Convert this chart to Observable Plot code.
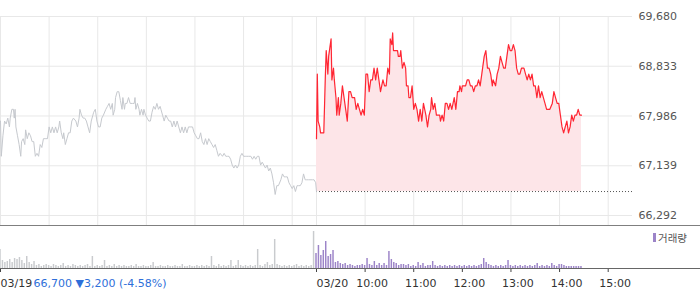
<!DOCTYPE html>
<html><head><meta charset="utf-8">
<script src="https://cdn.jsdelivr.net/npm/d3@7"></script>
<script src="https://cdn.jsdelivr.net/npm/@observablehq/plot@0.6"></script>
<style>
html,body{margin:0;padding:0;background:#fff;}
#wrap{position:relative;width:700px;height:289px;overflow:hidden;font-family:"DejaVu Sans",sans-serif;}
#main{position:absolute;left:0;top:0;}
#vol{position:absolute;left:0;top:226px;}
.hline{position:absolute;left:0;width:700px;height:0;}
#legend{position:absolute;left:653px;top:230px;font:10.5px "Noto Sans CJK KR",sans-serif;color:#555;display:flex;align-items:center;}
#legend i{display:inline-block;width:3px;height:9px;background:#9c84c8;margin-right:2px;}
</style></head>
<body><div id="wrap">
<div id="main"></div>
<div id="vol"></div>
<div class="hline" style="top:224.5px;border-top:1.5px solid #7f7f7f"></div>
<div class="hline" style="top:267.5px;border-top:1px solid #666"></div>
<div id="legend"><i></i><span>거래량</span></div>
</div>
<script>
// ---- data ----
const dayLabels = ["03/19", "03/20"];
const hourLabels = ["09:00","10:00","11:00","12:00","13:00","14:00","15:00"];
const sessionMinutes = 390; // 09:00 - 15:30
const yTicks = [66292, 67139, 67986, 68833, 69680];
const prevClose = 66700;
const lastPrice = 66700, change = -3200, changePct = -4.58;

const prevMinutes = [0,1,3,5,7,9,11,12,14,16,
 17,18,19,21,23,25,26,28,30,31,
 33,35,37,39,41,43,45,47,49,51,
 53,56,58,60,62,64,66,68,70,72,
 73,75,77,78,80,82,84,86,88,90,
 93,95,97,98,100,102,104,106,108,110,
 112,114,115,117,119,121,123,125,127,130,
 132,134,136,138,139,141,142,144,146,148,
 150,151,153,154,156,158,160,161,163,165,
 166,167,169,171,172,174,176,177,179,181,
 183,185,187,189,191,193,195,197,198,200,
 202,204,206,208,210,212,214,216,218,220,
 222,224,226,228,230,232,234,237,239,241,
 243,245,247,249,251,253,255,257,259,261,
 263,265,267,269,271,274,276,278,280,282,
 284,286,288,290,292,294,296,298,300,302,
 304,306,309,311,313,315,317,319,321,323,
 325,327,329,331,333,335,337,339,341,343,
 346,348,350,352,354,356,358,360,362,364,
 366,368,370,372,374,376,378,380,382,385,
 387,389,390];
const prevPrices = [67900,67300,67650,67900,67850,67950,67800,67950,68100,68100,
 67950,68100,67800,67650,67500,67300,67550,67600,67500,67750,
 67600,67700,67650,67550,67550,67300,67350,67300,67500,67450,
 67600,67600,67600,67800,67700,67800,67700,67800,67700,67800,
 67900,67700,67600,67700,67500,67600,67700,67700,67900,67950,
 67900,67800,67950,68100,68000,67950,67950,67900,67800,67700,
 67900,68000,68050,68100,67900,67800,67800,67950,68000,68100,
 68150,68200,68100,68200,68000,68100,68300,68400,68400,68250,
 68100,68300,68100,68200,68200,68300,68200,68200,68200,68200,
 68300,68100,68200,68100,68000,68100,68000,68100,68000,67950,
 67900,67900,68050,68150,68100,68200,68100,68150,68100,68000,
 67900,68000,67950,67900,67900,67800,67900,67800,67900,67800,
 67700,67800,67700,67800,67700,67800,67800,67800,67700,67650,
 67600,67600,67700,67550,67500,67600,67500,67600,67550,67500,
 67450,67500,67400,67300,67350,67300,67350,67300,67300,67300,
 67250,67150,67100,67150,67100,67150,67300,67350,67300,67300,
 67300,67300,67300,67250,67300,67250,67300,67300,67150,67200,
 67150,67100,67150,67050,67100,67000,66850,66650,66800,66800,
 66900,67000,66950,66950,66950,66850,66800,66750,66800,66700,
 66800,66800,66800,66850,67000,66900,66900,66900,66900,66900,
 66900,66850,66700];

const todayMinutes = [0,1,2,4,5,9,11,12,14,15,
 18,19,21,22,24,25,27,28,30,32,
 34,36,38,40,42,44,47,49,51,53,
 55,57,59,61,63,65,67,69,71,73,
 75,77,79,82,84,86,88,90,91,93,
 94,95,98,100,101,103,104,106,108,110,
 111,113,114,116,118,120,122,124,126,128,
 130,132,135,137,139,141,142,144,146,148,
 150,152,153,155,157,159,161,163,165,167,
 170,172,174,176,177,179,180,182,184,186,
 188,190,192,194,196,198,200,202,205,207,
 209,211,213,215,217,218,221,223,225,227,
 229,231,233,235,237,239,241,243,245,247,
 249,251,253,256,258,260,262,264,266,268,
 270,272,274,276,278,280,282,284,286,288,
 291,293,295,297,299,301,303,305,307,309,
 311,313,315,317,319,321,323,325,327];
const todayPrices = [67600,68700,67900,67800,67700,67700,68700,69100,68700,69000,
 69300,68600,68800,68600,68300,68000,68300,68000,68200,68500,
 68300,68100,67900,68400,68400,68300,68300,68100,68200,68100,
 68000,68100,68000,68700,68700,68400,68600,68600,68800,68600,
 68800,68600,68400,68600,68500,68500,68800,68700,69300,69200,
 69400,69100,69100,69100,69000,69000,69100,68800,68900,68800,
 68500,68500,68300,68300,68500,68100,68200,68100,67900,68100,
 67900,68200,68000,67800,68000,68100,68300,68100,68200,68000,
 68000,68000,67900,68000,67900,68200,68200,68100,68200,68100,
 68300,68100,68400,68400,68500,68400,68500,68500,68500,68600,
 68600,68500,68500,68400,68500,68500,68600,68500,68800,69000,
 69100,68800,68800,68700,68500,68600,68500,68700,68800,69000,
 68900,68800,68800,69000,69200,69100,69100,69200,69100,68800,
 68700,68700,68800,68800,68700,68600,68700,68600,68700,68500,
 68500,68300,68500,68300,68400,68300,68200,68100,68100,68100,
 68200,68400,68300,68200,68200,68000,67800,67700,67800,67900,
 67700,67800,68000,67900,68000,68000,68100,68000,68000];

const volumeStep = 3; // minutes between volume samples
const prevVolumes = [19,8,6,7,9,6,10,9,11,8,
 5,12,6,4,7,3,4,2,3,4,
 3,2,4,3,2,3,5,2,3,2,
 4,3,2,3,2,3,4,2,12,2,
 3,2,3,8,2,3,2,4,2,3,
 2,3,2,2,3,2,4,2,2,3,
 2,2,3,6,2,2,3,2,2,3,
 2,2,3,2,2,4,2,2,3,2,
 2,3,2,3,2,3,2,12,3,2,
 4,2,3,2,3,8,2,3,8,3,
 2,3,2,3,2,3,19,3,2,4,
 6,3,4,29,4,3,2,3,2,3,
 2,3,4,2,3,2,3,2,3,37];
const todayVolumes = [15,23,13,18,27,12,14,18,6,7,
 5,4,5,3,4,3,2,3,3,4,
 3,10,4,3,7,3,5,3,5,3,
 17,9,6,5,3,4,4,3,4,2,
 3,2,6,3,5,2,3,3,7,3,
 2,3,2,3,2,3,2,3,2,3,
 2,3,2,3,2,3,2,3,4,10,
 6,4,3,2,3,2,3,2,3,8,
 3,2,3,2,3,2,3,2,3,2,
 3,5,2,3,2,3,2,5,3,2,
 4,4,3,2,2,2,2,2,2,2];

// ---- derived tables ----
const hm = s => { const [h, m] = s.split(":").map(Number); return (h - 9) * 60 + m; };
const prev = prevMinutes.map((m, i) => ({m, p: prevPrices[i]}));
const today = todayMinutes.map((m, i) => ({m: sessionMinutes + m, p: todayPrices[i]}));
const prevVol = prevVolumes.map((v, i) => ({m: i * volumeStep, v}));
const todayVol = todayVolumes.map((v, i) => ({m: sessionMinutes + i * volumeStep, v}));
const gridMinutes = [0, 1].flatMap(d => hourLabels.map(h => d * sessionMinutes + hm(h)));
const dateTicks = dayLabels.map((label, d) => ({label, m: d * sessionMinutes}));
const hourTicks = hourLabels.slice(1).map(label => ({label, m: sessionMinutes + hm(label)}));
const xDomain = [0, 2 * sessionMinutes];
const fmt = d3.format(",");
const footer = `${fmt(lastPrice)} ${change < 0 ? "▼" : "▲"}${fmt(Math.abs(change))} (${changePct.toFixed(2)}%)`;

const font = {fontFamily: "'DejaVu Sans', sans-serif", fontSize: "11px", background: "transparent"};
const yMin = 66122, yMax = 69952;

const main = Plot.plot({
  width: 700, height: 226,
  marginLeft: 0, marginRight: 68, marginTop: 0, marginBottom: 1,
  x: {domain: xDomain, axis: null},
  y: {domain: [yMin, yMax], axis: null},
  style: font,
  marks: [
    Plot.ruleY(yTicks, {x1: 0, x2: xDomain[1], stroke: "#e8e8e8", strokeWidth: 1}),
    Plot.ruleX(gridMinutes, {y1: yMin, y2: yTicks[yTicks.length - 1], stroke: "#e8e8e8", strokeWidth: 1}),
    Plot.areaY(today, {x: "m", y1: prevClose, y2: "p", fill: "#fde5e8"}),
    Plot.ruleY([prevClose], {x1: sessionMinutes, x2: xDomain[1], stroke: "#555", strokeDasharray: "1,2", strokeWidth: 1}),
    Plot.line(prev, {x: "m", y: "p", stroke: "#c6c9ce", strokeWidth: 1}),
    Plot.line(today, {x: "m", y: "p", stroke: "#ff2633", strokeWidth: 1.2}),
    Plot.axisY(yTicks, {anchor: "right", label: null, tickSize: 0, tickPadding: 6, tickFormat: fmt, fill: "#555"})
  ]
});
document.getElementById("main").append(main);

const vol = Plot.plot({
  width: 700, height: 63,
  marginLeft: 0, marginRight: 68, marginTop: 4, marginBottom: 21,
  x: {domain: xDomain, axis: null},
  y: {domain: [0, 38], axis: null},
  style: font,
  marks: [
    Plot.rectY(prevVol, {x1: d => d.m - 0.9, x2: d => d.m + 0.9, y1: 0, y2: "v", fill: "#c9cbce"}),
    Plot.rectY(todayVol, {x1: d => d.m - 0.9, x2: d => d.m + 0.9, y1: 0, y2: "v", fill: "#9c84c8"}),
    Plot.ruleX([...dateTicks, ...hourTicks], {x: "m", y1: 0, y2: -4, stroke: "#444", strokeWidth: 1}),
    Plot.text(dateTicks, {x: "m", y: -15, text: "label", textAnchor: "start", fill: "#333"}),
    Plot.text(hourTicks, {x: "m", y: -15, text: "label", textAnchor: "middle", dx: 7, fill: "#333"}),
    Plot.text([footer], {x: 0, y: -15, text: d => d, textAnchor: "start", dx: 33, fill: "#2e6fd9"})
  ]
});
document.getElementById("vol").append(vol);
</script>
</body></html>
